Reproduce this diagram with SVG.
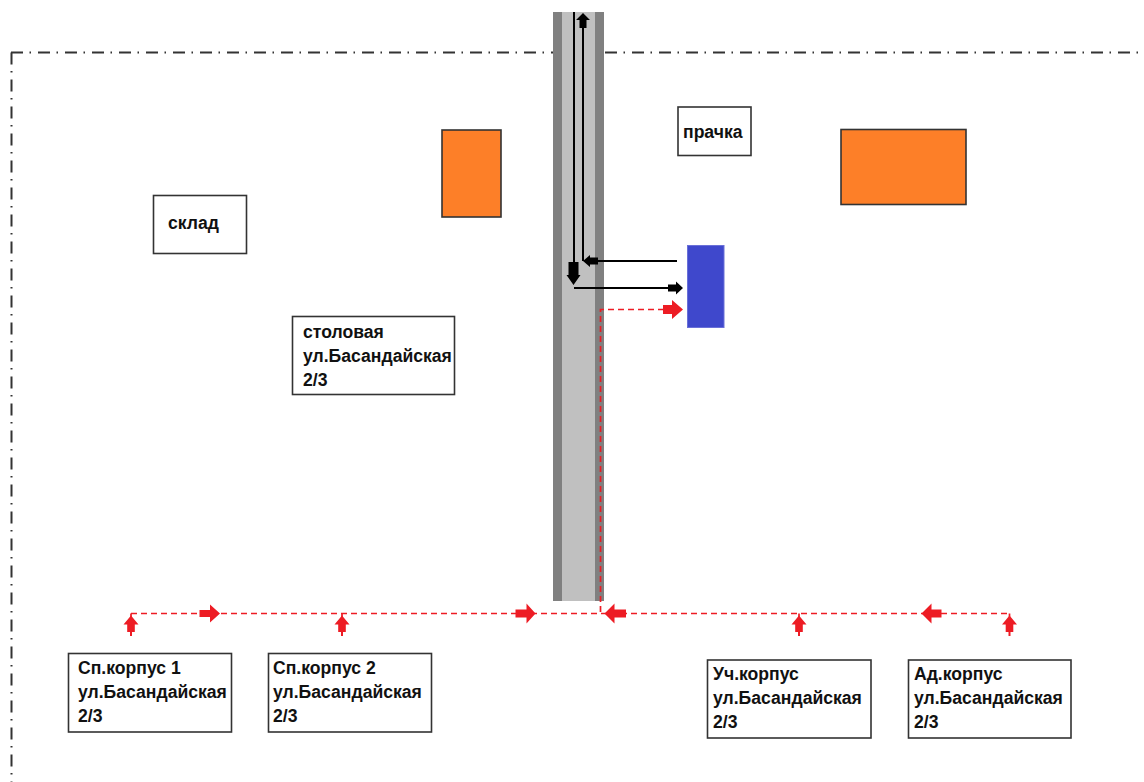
<svg xmlns="http://www.w3.org/2000/svg" width="1144" height="782" viewBox="0 0 1144 782">
<style>
.bg{fill:#fff}
.border{fill:none;stroke:#333;stroke-width:2;stroke-dasharray:12 6.5 1.5 7}
.box{fill:#fff;stroke:#333;stroke-width:1.6}
.org{fill:#FD7F28;stroke:#333;stroke-width:1.6}
.blue{fill:#3F48CC;stroke:#6a70d8;stroke-width:1}
.t{font-family:"Liberation Sans",Arial,sans-serif;font-weight:bold;font-size:17.6px;fill:#111}
.bl{fill:none;stroke:#000;stroke-width:2}
.ba{fill:#000}
.rl{fill:none;stroke:#ED1C24;stroke-width:1.7;stroke-dasharray:6 4}
.ra{fill:#ED1C24}
</style>
<rect class="bg" x="0" y="0" width="1144" height="782"/>
<path class="border" d="M11,52.5 H1144 M11.5,52.5 V782"/>

<g id="road">
<rect x="553" y="12" width="51" height="589" fill="#808080"/>
<rect x="562" y="12" width="33" height="589" fill="#C0C0C0"/>
</g>

<g id="sklad"><rect class="box" x="153.5" y="195.5" width="93" height="58"/><text class="t" x="168" y="229">склад</text></g>
<g id="prachka"><rect class="box" x="678" y="107" width="73" height="48.5"/><text class="t" x="683" y="138">прачка</text></g>
<g id="stolovaya"><rect class="box" x="292.5" y="316.5" width="162" height="78"/><text class="t" x="303" y="338">столовая<tspan x="303" y="362">ул.Басандайская</tspan><tspan x="303" y="386">2/3</tspan></text></g>
<g id="orange1"><rect class="org" x="442" y="130" width="59" height="87"/></g>
<g id="orange2"><rect class="org" x="841" y="129.5" width="125" height="75"/></g>
<g id="blue"><rect class="blue" x="687.5" y="245.5" width="36.5" height="82"/></g>
<g id="korpus1"><rect class="box" x="68.5" y="653.5" width="163" height="78.5"/><text class="t" x="78" y="674">Сп.корпус 1<tspan x="78" y="698">ул.Басандайская</tspan><tspan x="78" y="722">2/3</tspan></text></g>
<g id="korpus2"><rect class="box" x="268.5" y="653.5" width="163" height="78.5"/><text class="t" x="273" y="674">Сп.корпус 2<tspan x="273" y="698">ул.Басандайская</tspan><tspan x="273" y="722">2/3</tspan></text></g>
<g id="uch"><rect class="box" x="707.5" y="660" width="163.5" height="78"/><text class="t" x="713" y="680">Уч.корпус<tspan x="713" y="704">ул.Басандайская</tspan><tspan x="713" y="728">2/3</tspan></text></g>
<g id="ad"><rect class="box" x="908.5" y="660" width="162.5" height="78"/><text class="t" x="914" y="680">Ад.корпус<tspan x="914" y="704">ул.Басандайская</tspan><tspan x="914" y="728">2/3</tspan></text></g>

<g id="connectors">
<path class="bl" d="M574,12 V262"/>
<path class="bl" d="M583,28 V261 M598,261 H677"/>
<path class="bl" d="M574,288 H668"/>
<polygon class="ba" points="583,13 590,20 586.5,20 586.5,28 579.5,28 579.5,20 576,20"/>
<polygon class="ba" points="568.5,262 578.5,262 578.5,275 580.5,275 573.5,285 566.5,275 568.5,275"/>
<polygon class="ba" points="583,261 590,255 590,257.5 598,257.5 598,264.5 590,264.5 590,267"/>
<polygon class="ba" points="683,288 676,281.5 676,284.5 668,284.5 668,291.5 676,291.5 676,294.5"/>

<path class="rl" d="M664,309.5 H600.5 V613.5"/>
<path class="rl" d="M131,613.5 H1010"/>
<path class="rl" d="M131,613.5 V617 M342,613.5 V617 M799,613.5 V617 M1009.5,613.5 V617"/>
<polygon class="ra" points="683,309.5 672,300 672,305 663,305 663,314 672,314 672,319"/>
<polygon class="ra" points="220,613.5 210,604.5 210,610 199.5,610 199.5,617 210,617 210,622.5"/>
<polygon class="ra" points="535.5,613.5 526.5,603.5 526.5,609.5 515.5,609.5 515.5,617.5 526.5,617.5 526.5,623.5"/>
<polygon class="ra" points="604.5,613.5 614.5,603.5 614.5,609.5 626,609.5 626,617.5 614.5,617.5 614.5,623.5"/>
<polygon class="ra" points="921.5,613.5 931.5,603.5 931.5,609.5 941.5,609.5 941.5,617.5 931.5,617.5 931.5,623.5"/>
<g id="uparrows">
<polygon class="ra" points="131,615.5 138.5,624.5 134.8,624.5 134.8,632 132,632 132,636 130,636 130,632 127.2,632 127.2,624.5 123.5,624.5"/>
<polygon class="ra" points="342,615.5 349.5,624.5 345.8,624.5 345.8,632 343,632 343,636 341,636 341,632 338.2,632 338.2,624.5 334.5,624.5"/>
<polygon class="ra" points="799,615.5 806.5,624.5 802.8,624.5 802.8,632 800,632 800,636 798,636 798,632 795.2,632 795.2,624.5 791.5,624.5"/>
<polygon class="ra" points="1009.5,615.5 1017,624.5 1013.3,624.5 1013.3,632 1010.5,632 1010.5,636 1008.5,636 1008.5,632 1005.7,632 1005.7,624.5 1002,624.5"/>
</g>
</g>
</svg>
